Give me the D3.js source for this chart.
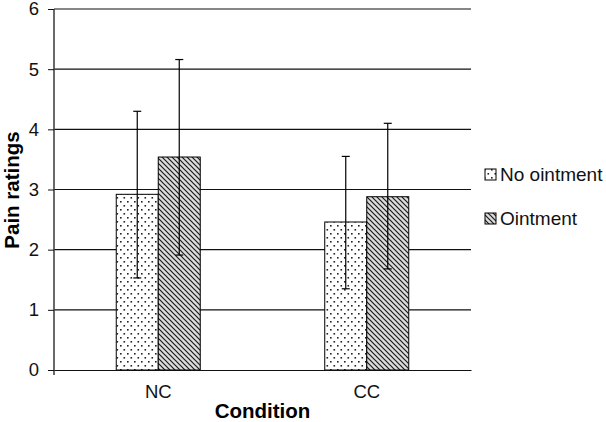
<!DOCTYPE html>
<html><head><meta charset="utf-8">
<script src="https://cdn.jsdelivr.net/npm/d3@7"></script>
<style>body{margin:0;background:#fff}svg{display:block;font-family:"Liberation Sans",Arial,sans-serif}</style>
</head><body>
<svg id="c" width="606" height="422"></svg>
<script>
const categories = ["NC", "CC"];
const seriesNames = ["No ointment", "Ointment"];
const noOintment = [2.92, 2.46];
const ointment = [3.54, 2.88];
const noOintmentLow = [1.53, 1.35];
const noOintmentHigh = [4.30, 3.55];
const ointmentLow = [1.91, 1.68];
const ointmentHigh = [5.16, 4.10];
const yTicks = [0, 1, 2, 3, 4, 5, 6];

const svg = d3.select("#c");
const m = {l: 54, r: 135, t: 9, b: 52};
const W = 606, H = 422;
const x = d3.scaleBand().domain(categories).range([m.l, W - m.r]);
const y = d3.scaleLinear().domain([0, 6]).range([H - m.b, m.t]);

const defs = svg.append("defs");
const dots = defs.append("pattern").attr("id", "dots").attr("patternUnits", "userSpaceOnUse")
  .attr("width", 7).attr("height", 8);
dots.append("rect").attr("width", 7).attr("height", 8).attr("fill", "#fff");
dots.append("rect").attr("x", 1).attr("y", 1).attr("width", 1.6).attr("height", 1.6).attr("fill", "#222");
dots.append("rect").attr("x", 4.5).attr("y", 5).attr("width", 1.6).attr("height", 1.6).attr("fill", "#222");
const hatch = defs.append("pattern").attr("id", "hatch").attr("patternUnits", "userSpaceOnUse")
  .attr("width", 5).attr("height", 5);
hatch.append("rect").attr("width", 5).attr("height", 5).attr("fill", "#dcdcdc");
hatch.append("path").attr("d", "M-1,-1 L6,6 M-1,4 L1,6 M4,-1 L6,1").attr("stroke", "#1a1a1a").attr("stroke-width", 1.2);

// gridlines
svg.append("g").selectAll("line").data(yTicks.filter(d => d > 0)).join("line")
  .attr("x1", m.l).attr("x2", W - m.r).attr("y1", d => y(d)).attr("y2", d => y(d))
  .attr("stroke", "#111").attr("stroke-width", 1.2);

const bw = 42;
const series = [
  {vals: noOintment, lo: noOintmentLow, hi: noOintmentHigh, fill: "url(#dots)", off: -bw},
  {vals: ointment, lo: ointmentLow, hi: ointmentHigh, fill: "url(#hatch)", off: 0}
];
series.forEach(s => {
  const g = svg.append("g");
  g.selectAll("rect").data(categories).join("rect")
    .attr("x", (d) => x(d) + x.bandwidth() / 2 + s.off)
    .attr("y", (d, i) => y(s.vals[i]))
    .attr("width", bw).attr("height", (d, i) => y(0) - y(s.vals[i]))
    .attr("fill", s.fill).attr("stroke", "#000").attr("stroke-width", 1);
  categories.forEach((c, i) => {
    const cx = x(c) + x.bandwidth() / 2 + s.off + bw / 2;
    g.append("line").attr("x1", cx).attr("x2", cx).attr("y1", y(s.lo[i])).attr("y2", y(s.hi[i]))
      .attr("stroke", "#000").attr("stroke-width", 1.2);
    [s.lo[i], s.hi[i]].forEach(v => g.append("line").attr("x1", cx - 4).attr("x2", cx + 4)
      .attr("y1", y(v)).attr("y2", y(v)).attr("stroke", "#000").attr("stroke-width", 1.2));
  });
});

// axes
const ya = svg.append("g").attr("transform", `translate(${m.l},0)`)
  .call(d3.axisLeft(y).tickValues(yTicks).tickSize(6).tickPadding(9).tickFormat(d3.format("d")));
ya.attr("font-size", null).attr("font-family", null);
ya.select(".domain").attr("stroke", "#444").attr("stroke-width", 1.6).attr("d", `M0,${m.t}V${H - m.b + 5}`);
ya.selectAll(".tick line").attr("stroke", "#111");
ya.selectAll("text").style("font-size", "18.5px").attr("fill", "#111");

const xa = svg.append("g").attr("transform", `translate(0,${y(0)})`)
  .call(d3.axisBottom(x).tickSize(0).tickPadding(15));
xa.attr("font-size", null).attr("font-family", null);
xa.select(".domain").attr("stroke", "#111").attr("stroke-width", 1.2);
xa.selectAll("text").style("font-size", "18.5px").attr("fill", "#111");

svg.append("text").attr("x", (m.l + W - m.r) / 2).attr("y", 418).attr("text-anchor", "middle")
  .style("font-size", "20.5px").attr("font-weight", "bold").attr("fill", "#000").text("Condition");
svg.append("text").attr("transform", "translate(19,190) rotate(-90)").attr("text-anchor", "middle")
  .style("font-size", "20.5px").attr("font-weight", "bold").attr("fill", "#000").text("Pain ratings");

// legend
const lg = svg.append("g");
const fills = ["url(#dots)", "url(#hatch)"];
seriesNames.forEach((n, i) => {
  const ly = 169 + i * 44;
  lg.append("rect").attr("x", 485).attr("y", ly).attr("width", 11).attr("height", 11)
    .attr("fill", fills[i]).attr("stroke", "#000").attr("stroke-width", 1);
  lg.append("text").attr("x", 500).attr("y", ly + 12).style("font-size", "19px").attr("fill", "#111").text(n);
});
</script>
</body></html>
